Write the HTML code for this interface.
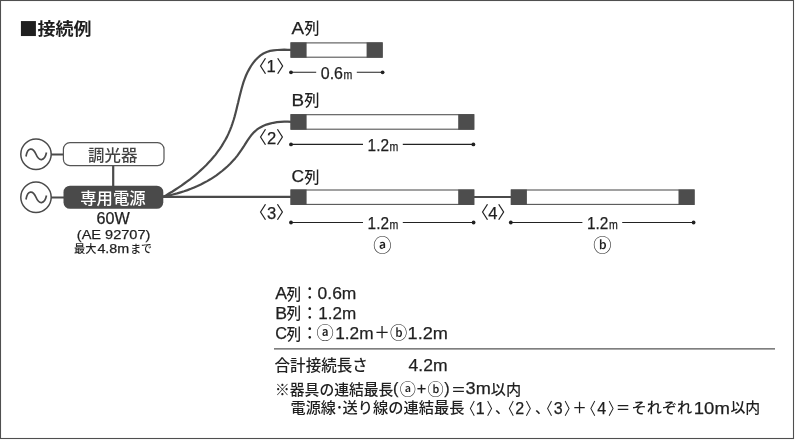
<!DOCTYPE html>
<html lang="ja">
<head>
<meta charset="utf-8">
<title>接続例</title>
<style>
html,body{margin:0;padding:0;background:#fff;width:795px;height:440px;overflow:hidden}
svg{will-change:transform;display:block;position:absolute;left:0;top:0}
text{font-family:"Liberation Sans","Noto Sans CJK JP",sans-serif;fill:#1f1f1f;font-weight:500}
.l{stroke:#1f1f1f;stroke-width:.25px}
.w{stroke:#4a4a4a;fill:none;stroke-width:2.2}
.cap{fill:#4d4d4d}
.tube{fill:#fff;stroke:#555;stroke-width:1.1}
.dim{stroke:#222;stroke-width:1.1;fill:none}
.dot{fill:#222}
.br{font-weight:400}
.ci{font-weight:500}
</style>
</head>
<body>
<svg width="795" height="440" viewBox="0 0 795 440">
<!-- outer frame -->
<rect x="0.5" y="0.5" width="793" height="438" fill="#fff" stroke="#4f4f4f" stroke-width="1.1"/>

<!-- title -->
<text x="19" y="34.4" font-size="17.4" style="font-weight:700"><tspan font-size="31" dy="3.5">■</tspan><tspan x="37.4" y="35.1" style="font-weight:700" textLength="54" lengthAdjust="spacingAndGlyphs">接続例</tspan></text>

<!-- wires -->
<path class="w" stroke-linejoin="round" d="M163.3,197.0 L166.4,195.2 169.4,193.3 172.5,191.5 175.5,189.5 178.4,187.6 181.4,185.6 184.3,183.5 187.2,181.4 190.0,179.3 192.8,177.1 195.6,174.8 198.3,172.5 200.9,170.1 203.5,167.7 206.1,165.2 208.6,162.6 211.0,160.0 213.3,157.3 215.6,154.6 217.7,151.7 219.8,148.8 221.8,145.9 223.6,142.8 225.4,139.7 227.1,136.6 228.6,133.4 230.0,130.1 231.3,126.8 232.5,123.4 233.6,120.0 234.6,116.6 235.5,113.2 236.4,109.7 237.2,106.3 238.1,102.8 238.9,99.3 239.7,95.9 240.6,92.4 241.5,89.0 242.5,85.5 243.5,82.1 244.7,78.8 246.0,75.5 247.5,72.2 249.2,69.1 251.0,66.0 253.0,63.1 255.3,60.3 257.8,57.8 260.5,55.4 263.4,53.5 266.7,52.0 270.1,50.9 273.6,50.3 277.1,50.0 280.7,49.8 284.2,49.7 287.8,49.8 291.4,49.8"/>
<path class="w" stroke-linejoin="round" d="M163.1,196.6 L166.6,195.9 170.2,195.2 173.7,194.3 177.2,193.4 180.6,192.4 184.1,191.3 187.5,190.1 190.9,188.8 194.2,187.4 197.5,186.0 200.8,184.5 204.0,182.8 207.2,181.1 210.3,179.3 213.4,177.3 216.4,175.3 219.3,173.2 222.1,171.0 224.9,168.6 227.6,166.2 230.2,163.7 232.7,161.1 235.1,158.4 237.4,155.6 239.5,152.7 241.6,149.7 243.6,146.7 245.5,143.6 247.4,140.6 249.5,137.6 251.7,134.7 254.1,132.1 256.8,129.7 259.8,127.7 263.0,126.0 266.4,124.6 269.9,123.6 273.4,122.8 276.9,122.2 280.5,121.9 284.2,121.7 287.8,121.7 291.4,121.8"/>
<path class="w" d="M163,196.9 H291"/>
<path class="w" d="M474,197 H511"/>

<!-- AC sources -->
<g fill="none" stroke="#4a4a4a" stroke-width="1.5">
<circle cx="36" cy="154.3" r="15.2"/>
<circle cx="36" cy="197.3" r="15.2"/>
<path d="M26,156.5 C27.5,147 33,147 36,154.3 C39,161.6 44.5,161.6 46.5,152.5" stroke-width="1.7"/>
<path d="M26,199.5 C27.5,190 33,190 36,197.3 C39,204.6 44.5,204.6 46.5,195.5" stroke-width="1.7"/>
</g>
<path class="w" d="M51,154.5 H63.5 M51,197.5 H64 M113.2,165.5 V186.5" stroke-width="2"/>

<!-- dimmer -->
<rect x="63.4" y="142.7" width="100.6" height="23" rx="6.5" ry="6.5" fill="#fff" stroke="#555" stroke-width="1.2"/>
<text x="88" y="160.8" font-size="16.4" textLength="49.4" lengthAdjust="spacingAndGlyphs" style="fill:#444">調光器</text>

<!-- power supply -->
<rect x="63.5" y="185.7" width="99.8" height="23.1" rx="6.5" ry="6.5" fill="#4a4a4a"/>
<text x="80.2" y="204.2" font-size="16.4" textLength="65.5" lengthAdjust="spacingAndGlyphs" style="fill:#fff">専用電源</text>
<text x="96.6" y="223.7" font-size="16" class="l" textLength="33.2" lengthAdjust="spacingAndGlyphs">60W</text>
<text x="76.8" y="238.9" font-size="13.2" class="l" textLength="73.6" lengthAdjust="spacingAndGlyphs">(AE 92707)</text>
<text x="74" y="253" font-size="11.4" textLength="22.4" lengthAdjust="spacingAndGlyphs">最大</text>
<text x="97.4" y="252.8" font-size="12.6" class="l" textLength="31.8" lengthAdjust="spacingAndGlyphs">4.8m</text>
<text x="130.2" y="253" font-size="11.4" textLength="21.8" lengthAdjust="spacingAndGlyphs">まで</text>

<!-- Row A -->
<text x="291.6" y="34.2" font-size="15.8" class="l" textLength="12.6" lengthAdjust="spacingAndGlyphs">A</text>
<text x="304.20000000000005" y="34.400000000000006" font-size="16" textLength="15.2" lengthAdjust="spacingAndGlyphs">列</text>
<rect class="tube" x="291.0" y="42.9" width="91.2" height="14.3"/>
<rect class="cap" x="290.6" y="42.4" width="16" height="15.3"/>
<rect class="cap" x="366.6" y="42.4" width="16" height="15.3"/>
<path class="dim" d="M291.0,72.3 H316.2 M356.8,72.3 H382.6"/>
<circle class="dot" cx="291.0" cy="72.3" r="1.9"/><circle class="dot" cx="382.6" cy="72.3" r="1.9"/>
<text x="320.8" y="78.6" font-size="16" class="l" textLength="22.2" lengthAdjust="spacingAndGlyphs">0.6</text>
<text x="343.6" y="78.6" font-size="12" class="l" textLength="8.8" lengthAdjust="spacingAndGlyphs">m</text>

<!-- Row B -->
<text x="291.6" y="105.6" font-size="15.8" class="l" textLength="12.6" lengthAdjust="spacingAndGlyphs">B</text>
<text x="304.20000000000005" y="105.8" font-size="16" textLength="15.2" lengthAdjust="spacingAndGlyphs">列</text>
<rect class="tube" x="291.0" y="114.7" width="182.8" height="14.5"/>
<rect class="cap" x="290.6" y="114.2" width="16" height="15.5"/>
<rect class="cap" x="458.2" y="114.2" width="16" height="15.5"/>
<path class="dim" d="M291.0,144.4 H363.0 M402.8,144.4 H473.4"/>
<circle class="dot" cx="291.0" cy="144.4" r="1.9"/><circle class="dot" cx="473.4" cy="144.4" r="1.9"/>
<text x="367.6" y="150.7" font-size="16" class="l" textLength="21.4" lengthAdjust="spacingAndGlyphs">1.2</text>
<text x="389.6" y="150.7" font-size="12" class="l" textLength="8.8" lengthAdjust="spacingAndGlyphs">m</text>

<!-- Row C -->
<text x="291.6" y="182.4" font-size="15.8" class="l" textLength="12.6" lengthAdjust="spacingAndGlyphs">C</text>
<text x="304.20000000000005" y="182.6" font-size="16" textLength="15.2" lengthAdjust="spacingAndGlyphs">列</text>
<rect class="tube" x="291.0" y="190.0" width="182.8" height="14.4"/>
<rect class="cap" x="290.6" y="189.5" width="16" height="15.4"/>
<rect class="cap" x="458.2" y="189.5" width="16" height="15.4"/>
<rect class="tube" x="511.3" y="190.0" width="182.8" height="14.4"/>
<rect class="cap" x="510.9" y="189.5" width="16" height="15.4"/>
<rect class="cap" x="678.5" y="189.5" width="16" height="15.4"/>
<path class="dim" d="M291.0,222.5 H363.0 M402.8,222.5 H473.6"/>
<circle class="dot" cx="291.0" cy="222.5" r="1.9"/><circle class="dot" cx="473.6" cy="222.5" r="1.9"/>
<text x="367.6" y="228.8" font-size="16" class="l" textLength="21.4" lengthAdjust="spacingAndGlyphs">1.2</text>
<text x="389.6" y="228.8" font-size="12" class="l" textLength="8.8" lengthAdjust="spacingAndGlyphs">m</text>
<path class="dim" d="M510.8,222.5 H582.4 M622.2,222.5 H693.6"/>
<circle class="dot" cx="510.8" cy="222.5" r="1.9"/><circle class="dot" cx="693.6" cy="222.5" r="1.9"/>
<text x="587.0" y="228.8" font-size="16" class="l" textLength="21.4" lengthAdjust="spacingAndGlyphs">1.2</text>
<text x="609.0" y="228.8" font-size="12" class="l" textLength="8.8" lengthAdjust="spacingAndGlyphs">m</text>

<!-- labels -->
<text x="0" y="0" font-size="17.2" class="br" text-anchor="end" transform="translate(266.95,72.50) scale(1.0,1)">〈</text>
<text x="271.10" y="71.70" font-size="16.6" class="l" text-anchor="middle">1</text>
<text x="0" y="0" font-size="17.2" class="br" transform="translate(276.14,72.50) scale(1.0,1)">〉</text>
<text x="0" y="0" font-size="17.2" class="br" text-anchor="end" transform="translate(266.85,144.40) scale(1.0,1)">〈</text>
<text x="271.50" y="143.60" font-size="16.6" class="l" text-anchor="middle">2</text>
<text x="0" y="0" font-size="17.2" class="br" transform="translate(276.04,144.40) scale(1.0,1)">〉</text>
<text x="0" y="0" font-size="17.2" class="br" text-anchor="end" transform="translate(266.85,219.40) scale(1.0,1)">〈</text>
<text x="271.50" y="218.70" font-size="16.6" class="l" text-anchor="middle">3</text>
<text x="0" y="0" font-size="17.2" class="br" transform="translate(276.04,219.40) scale(1.0,1)">〉</text>
<text x="0" y="0" font-size="17.2" class="br" text-anchor="end" transform="translate(488.85,219.40) scale(1.0,1)">〈</text>
<text x="492.90" y="218.70" font-size="16.6" class="l" text-anchor="middle">4</text>
<text x="0" y="0" font-size="17.2" class="br" transform="translate(497.24,219.40) scale(1.0,1)">〉</text>

<!-- circled a / b under row C -->
<text x="382.49" y="251.74" font-size="18.3" class="ci" text-anchor="middle">ⓐ</text>
<text x="602.39" y="251.84" font-size="18.3" class="ci" text-anchor="middle">ⓑ</text>

<!-- notes -->
<text x="275.2" y="298.9" font-size="15.8" class="l" textLength="11.8" lengthAdjust="spacingAndGlyphs">A</text>
<text x="286.6" y="299.5" font-size="16" textLength="14.6" lengthAdjust="spacingAndGlyphs">列</text>
<text x="309.7" y="299.34999999999997" font-size="16" text-anchor="middle">：</text>
<text x="317.6" y="298.9" font-size="17.3" class="l" textLength="38.8" lengthAdjust="spacingAndGlyphs">0.6m</text>
<text x="275.2" y="318.8" font-size="15.8" class="l" textLength="11.8" lengthAdjust="spacingAndGlyphs">B</text>
<text x="286.6" y="319.40000000000003" font-size="16" textLength="14.6" lengthAdjust="spacingAndGlyphs">列</text>
<text x="309.7" y="319.25" font-size="16" text-anchor="middle">：</text>
<text x="318.2" y="318.8" font-size="17.3" class="l" textLength="38" lengthAdjust="spacingAndGlyphs">1.2m</text>
<text x="275.2" y="339.0" font-size="15.8" class="l" textLength="11.8" lengthAdjust="spacingAndGlyphs">C</text>
<text x="286.6" y="339.6" font-size="16" textLength="14.6" lengthAdjust="spacingAndGlyphs">列</text>
<text x="309.7" y="339.45" font-size="16" text-anchor="middle">：</text>
<text x="325.19" y="339.42" font-size="17.2" class="ci" text-anchor="middle">ⓐ</text>
<text x="335.2" y="339.0" font-size="17.3" class="l" textLength="38.4" lengthAdjust="spacingAndGlyphs">1.2m</text>
<text x="382" y="338.4" font-size="15.6" text-anchor="middle">＋</text>
<text x="398.69" y="339.42" font-size="17.2" class="ci" text-anchor="middle">ⓑ</text>
<text x="407.6" y="339.0" font-size="17.3" class="l" textLength="40.4" lengthAdjust="spacingAndGlyphs">1.2m</text>
<path d="M274,348.8 H775" stroke="#555" stroke-width="1.3" fill="none"/>
<text x="274.6" y="371.3" font-size="15.4" textLength="93.2" lengthAdjust="spacingAndGlyphs">合計接続長さ</text>
<text x="408.6" y="370.7" font-size="17.3" class="l" textLength="39" lengthAdjust="spacingAndGlyphs">4.2m</text>
<text x="275" y="394.6" font-size="15.1" textLength="118.4" lengthAdjust="spacingAndGlyphs">※器具の連結最長</text>
<text x="393" y="393.6" font-size="16.2" class="l">(</text>
<text x="407.68" y="394.51" font-size="16.1" class="ci" text-anchor="middle">ⓐ</text>
<text x="421.5" y="394.0" font-size="16.2" class="l" text-anchor="middle">+</text>
<text x="435.48" y="394.51" font-size="16.1" class="ci" text-anchor="middle">ⓑ</text>
<text x="444.2" y="393.6" font-size="16.2" class="l">)</text>
<text x="458.5" y="394.6" font-size="15" text-anchor="middle">＝</text>
<text x="465.6" y="394.4" font-size="16.4" class="l" textLength="25.2" lengthAdjust="spacingAndGlyphs">3m</text>
<text x="490.8" y="394.9" font-size="15" textLength="30.4" lengthAdjust="spacingAndGlyphs">以内</text>
<text x="290.6" y="413.2" font-size="14.8" textLength="45.4" lengthAdjust="spacingAndGlyphs">電源線</text>
<text x="339.4" y="413.2" font-size="14.8" text-anchor="middle">･</text>
<text x="342.4" y="413.2" font-size="14.8" textLength="122" lengthAdjust="spacingAndGlyphs">送り線の連結最長</text>
<text x="0" y="0" font-size="16.3" class="br" text-anchor="end" transform="translate(475.35,414.46) scale(0.84,1)">〈</text>
<text x="480.20" y="413.90" font-size="16" class="l" text-anchor="middle">1</text>
<text x="0" y="0" font-size="16.3" class="br" transform="translate(486.52,414.46) scale(0.84,1)">〉</text>
<text x="495" y="413.2" font-size="14.6">、</text>
<text x="0" y="0" font-size="16.3" class="br" text-anchor="end" transform="translate(514.55,414.46) scale(0.84,1)">〈</text>
<text x="519.75" y="413.90" font-size="16" class="l" text-anchor="middle">2</text>
<text x="0" y="0" font-size="16.3" class="br" transform="translate(525.22,414.46) scale(0.84,1)">〉</text>
<text x="535.1" y="413.2" font-size="14.6">、</text>
<text x="0" y="0" font-size="16.3" class="br" text-anchor="end" transform="translate(552.75,414.46) scale(0.84,1)">〈</text>
<text x="558.20" y="413.90" font-size="16" class="l" text-anchor="middle">3</text>
<text x="0" y="0" font-size="16.3" class="br" transform="translate(564.12,414.46) scale(0.84,1)">〉</text>
<text x="579.6" y="413.2" font-size="14.6" text-anchor="middle">＋</text>
<text x="0" y="0" font-size="16.3" class="br" text-anchor="end" transform="translate(595.95,414.46) scale(0.84,1)">〈</text>
<text x="601.70" y="413.90" font-size="16" class="l" text-anchor="middle">4</text>
<text x="0" y="0" font-size="16.3" class="br" transform="translate(607.92,414.46) scale(0.84,1)">〉</text>
<text x="623.1" y="413.2" font-size="14.6" text-anchor="middle">＝</text>
<text x="631.6" y="413.2" font-size="14.8" textLength="60.6" lengthAdjust="spacingAndGlyphs">それぞれ</text>
<text x="693.8" y="413.9" font-size="16.4" class="l" textLength="36" lengthAdjust="spacingAndGlyphs">10m</text>
<text x="730.4" y="413.2" font-size="14.8" textLength="29.8" lengthAdjust="spacingAndGlyphs">以内</text>
</svg>
</body>
</html>
